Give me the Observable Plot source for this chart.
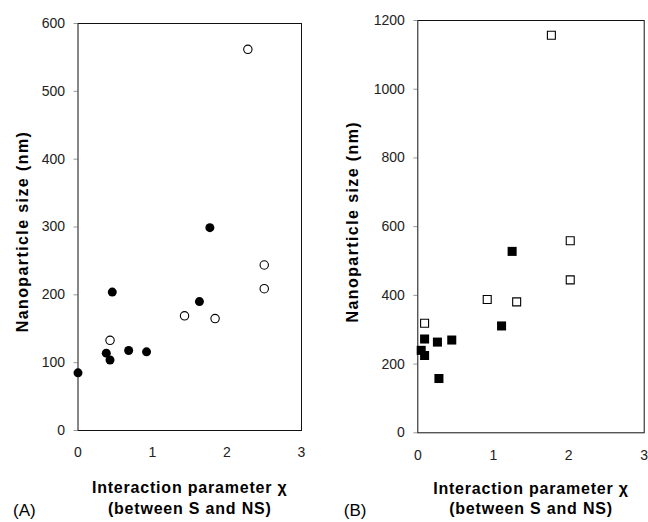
<!DOCTYPE html>
<html>
<head>
<meta charset="utf-8">
<script src="https://cdn.jsdelivr.net/npm/d3@7"></script>
<script src="https://cdn.jsdelivr.net/npm/@observablehq/plot@0.6"></script>
<style>
  html, body { margin: 0; padding: 0; background: white; }
  #wrap { position: relative; width: 648px; height: 522px; overflow: hidden; }
  #wrap > svg { position: absolute; top: 0; }
  g[font-weight="bold"] text { letter-spacing: 0.8px; }
</style>
</head>
<body>
<div id="wrap"></div>
<script>
// Panel A: circles
const aFilledX = [0, 0.38, 0.43, 0.46, 0.68, 0.92, 1.63, 1.77];
const aFilledY = [85, 114, 104, 204, 118, 116, 190, 299];
const aOpenX = [0.43, 1.43, 1.84, 2.28, 2.50, 2.50];
const aOpenY = [133, 169, 165, 562, 244, 209];
// Panel B: squares
const bFilledX = [0.045, 0.09, 0.09, 0.26, 0.28, 0.45, 1.11, 1.25];
const bFilledY = [240, 225, 273, 264, 158, 270, 311, 528];
const bOpenX = [0.09, 0.92, 1.31, 1.77, 2.02, 2.02];
const bOpenY = [319, 388, 381, 1157, 559, 445];

const xTicks = [0, 1, 2, 3];
const aYTicks = [0, 100, 200, 300, 400, 500, 600];
const bYTicks = [0, 200, 400, 600, 800, 1000, 1200];
const yTitle = "Nanoparticle size (nm)";
const xTitle = "Interaction parameter \u03C7\n(between S and NS)";
const panelLabels = ["(A)", "(B)"];

const pts = (xs, ys) => xs.map((x, i) => ({x, y: ys[i]}));
const font = "'Liberation Sans', Arial, Helvetica, sans-serif";
const fmt = d => String(d);

function panel({width, mL, mR, mT, mB, yMax, yTicks, filled, open, symbol, rF, rO, yDx, yDy, xDy, lab, labDx, labDy}) {
  const svg = Plot.plot({
    width, height: 522,
    marginLeft: mL, marginRight: mR, marginTop: mT, marginBottom: mB,
    style: {fontFamily: font, fontSize: "14px", background: "white", color: "#111", overflow: "visible"},
    x: {domain: [0, 3]},
    y: {domain: [0, yMax]},
    marks: [
      Plot.axisY({ticks: yTicks, tickFormat: fmt, tickSize: 4, tickPadding: 9, stroke: "#999", fill: "#222", label: null}),
      Plot.axisX({ticks: xTicks, tickFormat: fmt, tickSize: 0, tickPadding: 17, fill: "#222", label: null}),
      Plot.frame({stroke: "#111"}),
      Plot.dot(filled, {x: "x", y: "y", symbol, r: rF, fill: "black", stroke: "none"}),
      Plot.dot(open, {x: "x", y: "y", symbol, r: rO, fill: "white", stroke: "black", strokeWidth: 1.1}),
      Plot.text([yTitle], {frameAnchor: "left", textAnchor: "middle", rotate: -90, dx: yDx, dy: yDy, fontSize: 16, fontWeight: "bold", fill: "black"}),
      Plot.text([xTitle], {frameAnchor: "bottom", textAnchor: "middle", lineAnchor: "top", lineHeight: 1.3, dy: xDy, fontSize: 16, fontWeight: "bold", fill: "black"}),
      Plot.text([lab], {frameAnchor: "bottom-left", textAnchor: "start", lineAnchor: "middle", dx: labDx, dy: labDy, fontSize: 17, fill: "black"})
    ]
  });
  d3.select(svg).selectAll("text").filter(function() { return this.textContent === yTitle; })
    .style("letter-spacing", "1.4px");
  return svg;
}

const wrap = document.getElementById("wrap");
const A = panel({
  width: 330, mL: 77.5, mR: 29, mT: 23, mB: 92, yMax: 600, yTicks: aYTicks,
  filled: pts(aFilledX, aFilledY), open: pts(aOpenX, aOpenY), symbol: "circle", rF: 4.5, rO: 4.2,
  yDx: -55.5, yDy: 4.5, xDy: 48, lab: panelLabels[0], labDx: -65, labDy: 80
});
A.style.left = "0px";
const B = panel({
  width: 318, mL: 87.3, mR: 4.3, mT: 20, mB: 89.7, yMax: 1200, yTicks: bYTicks,
  filled: pts(bFilledX, bFilledY), open: pts(bOpenX, bOpenY), symbol: "square", rF: 5.1, rO: 4.5,
  yDx: -65, yDy: -5, xDy: 46, lab: panelLabels[1], labDx: -74, labDy: 78
});
B.style.left = "330px";
wrap.appendChild(A);
wrap.appendChild(B);
</script>
</body>
</html>
